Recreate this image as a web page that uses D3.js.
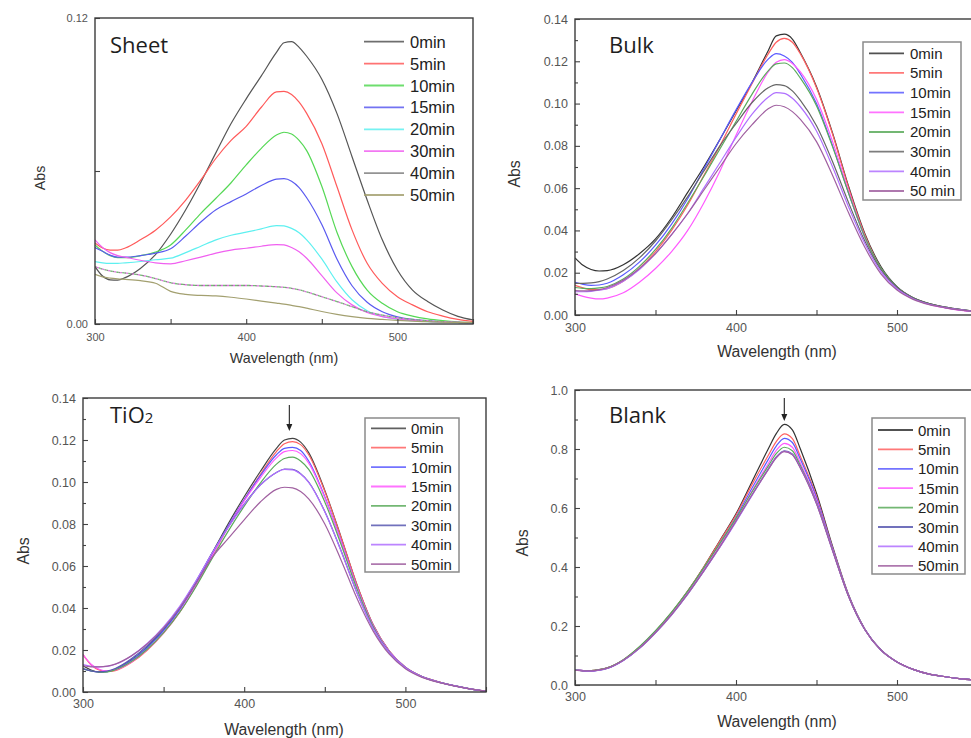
<!DOCTYPE html>
<html>
<head>
<meta charset="utf-8">
<script src="https://cdn.jsdelivr.net/npm/d3@7"></script>
<style>
  html, body { margin: 0; padding: 0; background: #fff; overflow: hidden; }
  svg { display: block; }
</style>
</head>
<body>
<svg id="fig" width="971" height="738"></svg>
<script>
// Wavelength grid (nm) shared by every spectrum
const wavelengths = [300,305,310,315,320,330,340,350,360,370,380,390,400,410,420,425,430,435,440,450,460,470,480,490,500,510,520,530,540,550];

// Irradiation times shown in the legends
const timeLabels = ["0min","5min","10min","15min","20min","30min","40min","50min"];
const bulkTimeLabels = ["0min","5min","10min","15min","20min","30min","40min","50 min"];

// Tick values
const xTicks = [300,350,400,450,500,550];
const xTickLabels = [300,400,500];
const sheetYTicks = [0, 0.06, 0.12];
const sheetYTickLabels = [0, 0.12];
const smallYMajor = [0,0.02,0.04,0.06,0.08,0.10,0.12,0.14];
const smallYMinor = [0.01,0.03,0.05,0.07,0.09,0.11,0.13];
const blankYMajor = [0,0.2,0.4,0.6,0.8,1.0];
const blankYMinor = [0.1,0.3,0.5,0.7,0.9];

// Series colours
const sheetColors = ["#555555","#ff5a5a","#55d855","#5a5af0","#5ef0f0","#f060f0","#808080","#a3a070"];
const bulkColors  = ["#333333","#ff6060","#5a5aff","#ff5aff","#5aaa5a","#666666","#b070ff","#a060a0"];
const tio2Colors  = ["#444444","#ff6060","#5a5aff","#ff5aff","#5aaa5a","#5858b0","#b070ff","#a060a0"];
const blankColors = ["#333333","#ff6060","#5a5aff","#ff5aff","#5aaa5a","#5858b0","#b070ff","#a060a0"];

// Absorbance spectra, one row per irradiation time
const sheetAbs = [
  [.0225,.0188,.0173,.0172,.0182,.0218,.0272,.0352,.0448,.0556,.0672,.0786,.0883,.0973,.1065,.1103,.1107,.1085,.1050,.0960,.0826,.0656,.0486,.0330,.0212,.0133,.0088,.0055,.0030,.0016],
  [.0318,.0298,.0290,.0290,.0298,.0330,.0368,.0420,.0486,.0565,.0650,.0720,.0775,.0850,.0910,.0912,.0900,.0870,.0826,.0708,.0539,.0369,.0238,.0159,.0107,.0075,.0048,.0031,.0018,.0010],
  [.0310,.0285,.0268,.0260,.0260,.0268,.0282,.0310,.0369,.0434,.0493,.0554,.0624,.0689,.0741,.0752,.0745,.0720,.0680,.0540,.0360,.0225,.0133,.0081,.0048,.0031,.0020,.0013,.0008,.0005],
  [.0300,.0285,.0270,.0262,.0262,.0268,.0278,.0295,.0345,.0400,.0448,.0480,.0510,.0543,.0568,.0570,.0560,.0535,.0495,.0390,.0255,.0150,.0085,.0048,.0028,.0018,.0012,.0008,.0006,.0004],
  [.0245,.0240,.0238,.0238,.0240,.0245,.0252,.0258,.0280,.0305,.0330,.0348,.0360,.0373,.0386,.0385,.0375,.0358,.0330,.0255,.0165,.0095,.0052,.0030,.0019,.0013,.0009,.0007,.0005,.0004],
  [.0330,.0300,.0280,.0268,.0262,.0250,.0240,.0236,.0248,.0262,.0278,.0290,.0297,.0305,.0311,.0310,.0300,.0283,.0258,.0190,.0122,.0075,.0045,.0029,.0020,.0014,.0010,.0008,.0006,.0005],
  [.0225,.0215,.0208,.0203,.0200,.0192,.0178,.0162,.0154,.0151,.0151,.0151,.0151,.0149,.0146,.0144,.0140,.0134,.0126,.0107,.0088,.0068,.0048,.0035,.0025,.0018,.0013,.0009,.0006,.0005],
  [.0195,.0185,.0180,.0177,.0175,.0170,.0160,.0128,.0116,.0112,.0110,.0105,.0098,.0090,.0082,.0078,.0073,.0068,.0062,.0049,.0038,.0029,.0022,.0018,.0014,.0011,.0009,.0007,.0006,.0005]
];

const bulkAbs = [
  [.0270,.0235,.0215,.0208,.0210,.0238,.0290,.0360,.0460,.0580,.0700,.0830,.0965,.1100,.1250,.1320,.1328,.1305,.1240,.1080,.0860,.0607,.0386,.0229,.0134,.0082,.0054,.0037,.0025,.0016],
  [.0140,.0128,.0120,.0120,.0125,.0160,.0220,.0300,.0400,.0520,.0660,.0800,.0950,.1095,.1235,.1290,.1308,.1290,.1235,.1075,.0855,.0600,.0380,.0222,.0130,.0080,.0052,.0035,.0023,.0015],
  [.0155,.0145,.0140,.0142,.0150,.0190,.0250,.0330,.0430,.0550,.0690,.0830,.0970,.1100,.1210,.1236,.1225,.1195,.1140,.1000,.0800,.0575,.0368,.0220,.0130,.0080,.0052,.0035,.0023,.0015],
  [.0100,.0088,.0080,.0076,.0080,.0105,.0155,.0220,.0300,.0400,.0530,.0680,.0850,.1010,.1150,.1195,.1208,.1190,.1150,.1020,.0820,.0585,.0370,.0218,.0128,.0078,.0050,.0034,.0022,.0014],
  [.0130,.0126,.0125,.0128,.0135,.0170,.0230,.0310,.0410,.0530,.0655,.0785,.0915,.1045,.1155,.1188,.1192,.1170,.1120,.0990,.0795,.0575,.0370,.0222,.0132,.0081,.0053,.0036,.0024,.0015],
  [.0150,.0150,.0152,.0158,.0170,.0210,.0270,.0350,.0450,.0560,.0680,.0800,.0905,.1005,.1075,.1090,.1085,.1060,.1015,.0895,.0725,.0530,.0350,.0214,.0130,.0081,.0054,.0037,.0025,.0016],
  [.0110,.0110,.0112,.0117,.0125,.0160,.0215,.0290,.0380,.0480,.0600,.0720,.0840,.0950,.1030,.1052,.1048,.1025,.0985,.0870,.0700,.0510,.0338,.0205,.0124,.0077,.0051,.0035,.0024,.0015],
  [.0115,.0114,.0115,.0120,.0130,.0165,.0220,.0290,.0380,.0480,.0590,.0700,.0810,.0900,.0975,.0992,.0985,.0962,.0925,.0820,.0660,.0482,.0320,.0195,.0118,.0074,.0049,.0034,.0023,.0015]
];

const tio2Abs = [
  [.0125,.0105,.0096,.0097,.0108,.0152,.0215,.0295,.0395,.0520,.0660,.0800,.0930,.1050,.1160,.1200,.1208,.1190,.1140,.0960,.0740,.0510,.0320,.0195,.0118,.0075,.0050,.0030,.0015,.0004],
  [.0178,.0130,.0105,.0098,.0102,.0140,.0200,.0280,.0380,.0505,.0645,.0785,.0915,.1035,.1145,.1182,.1192,.1178,.1130,.0955,.0738,.0510,.0320,.0195,.0118,.0075,.0050,.0030,.0015,.0004],
  [.0112,.0100,.0095,.0097,.0108,.0150,.0212,.0292,.0392,.0515,.0655,.0790,.0915,.1030,.1130,.1160,.1165,.1150,.1100,.0930,.0720,.0498,.0315,.0192,.0117,.0074,.0049,.0030,.0015,.0004],
  [.0178,.0132,.0108,.0100,.0105,.0143,.0203,.0283,.0383,.0507,.0648,.0785,.0910,.1020,.1115,.1145,.1150,.1135,.1090,.0925,.0718,.0497,.0315,.0192,.0117,.0074,.0049,.0030,.0015,.0004],
  [.0110,.0100,.0095,.0096,.0106,.0145,.0205,.0283,.0380,.0500,.0635,.0765,.0885,.0995,.1085,.1112,.1118,.1100,.1060,.0905,.0705,.0490,.0312,.0190,.0116,.0073,.0048,.0030,.0015,.0004],
  [.0110,.0100,.0096,.0100,.0112,.0158,.0222,.0302,.0402,.0525,.0660,.0785,.0895,.0985,.1045,.1062,.1060,.1040,.1000,.0860,.0675,.0472,.0303,.0187,.0115,.0073,.0048,.0030,.0015,.0004],
  [.0130,.0122,.0120,.0122,.0132,.0172,.0232,.0310,.0408,.0528,.0660,.0783,.0893,.0985,.1045,.1060,.1058,.1038,.0998,.0858,.0673,.0470,.0302,.0187,.0115,.0073,.0048,.0030,.0015,.0004],
  [.0125,.0120,.0120,.0123,.0133,.0172,.0230,.0305,.0400,.0515,.0640,.0730,.0820,.0905,.0965,.0975,.0972,.0955,.0920,.0800,.0630,.0445,.0290,.0180,.0111,.0071,.0047,.0029,.0015,.0004]
];

const blankAbs = [
  [.051,.049,.049,.052,.058,.085,.128,.182,.245,.318,.400,.490,.580,.690,.800,.852,.8836,.865,.800,.650,.470,.305,.190,.120,.078,.053,.037,.028,.021,.017],
  [.051,.049,.049,.052,.058,.085,.128,.182,.245,.318,.400,.488,.576,.680,.778,.825,.851,.835,.775,.640,.465,.303,.189,.119,.078,.053,.037,.028,.021,.017],
  [.051,.049,.048,.051,.057,.084,.126,.180,.242,.314,.394,.480,.568,.668,.764,.810,.836,.822,.765,.634,.463,.302,.189,.119,.078,.053,.037,.028,.021,.017],
  [.051,.049,.048,.051,.057,.084,.126,.180,.241,.312,.390,.475,.562,.658,.750,.795,.819,.806,.752,.626,.460,.301,.188,.118,.078,.053,.037,.028,.021,.017],
  [.051,.049,.049,.052,.058,.086,.130,.184,.247,.318,.398,.480,.565,.655,.742,.784,.806,.794,.744,.620,.458,.300,.188,.118,.078,.053,.037,.028,.021,.017],
  [.050,.048,.047,.050,.056,.083,.124,.177,.238,.308,.386,.468,.555,.645,.732,.773,.794,.783,.737,.616,.456,.300,.188,.118,.078,.053,.037,.028,.021,.017],
  [.050,.048,.047,.050,.056,.083,.124,.177,.238,.308,.386,.467,.553,.643,.730,.771,.792,.781,.736,.615,.456,.300,.188,.118,.078,.053,.037,.028,.021,.017],
  [.050,.048,.048,.051,.057,.084,.125,.178,.239,.309,.387,.469,.556,.645,.730,.770,.791,.780,.735,.614,.455,.299,.188,.118,.078,.053,.037,.028,.021,.017]
];

const svg = d3.select("#fig");
const sansFont = "'Liberation Sans', Arial, sans-serif";
const titleFont = "'Open Sans', 'Noto Sans', sans-serif";

const panels = [
  { id: "sheet", title: "Sheet", abs: sheetAbs, colors: sheetColors, labels: timeLabels,
    left: 95, right: 473, top: 18, bottom: 324, yMax: 0.12,
    yMajor: sheetYTicks, yLabelled: sheetYTickLabels, yMinor: [], yFmt: d3.format(".2f"),
    tickFont: 11, xPad: 9, axisFont: 14.3,
    absPos: [40, 178], wlPos: [284, 363], titlePos: [110, 53], titleSize: 22,
    legend: { box: null, x1: 364, x2: 404, tx: 410, y0: 41.7, dy: 21.9, font: 16.5 },
    arrow: null },
  { id: "bulk", title: "Bulk", abs: bulkAbs, colors: bulkColors, labels: bulkTimeLabels,
    left: 575, right: 977.5, top: 19, bottom: 315, yMax: 0.14,
    yMajor: smallYMajor, yLabelled: smallYMajor, yMinor: smallYMinor, yFmt: d3.format(".2f"),
    tickFont: 12.5, xPad: 8.5, axisFont: 15.8,
    absPos: [514, 174], wlPos: [777, 357], titlePos: [609, 53], titleSize: 22,
    legend: { box: [863, 42, 961, 200], x1: 869, x2: 904, tx: 910, y0: 53.3, dy: 19.67, font: 15 },
    arrow: null },
  { id: "tio2", title: "TiO", sub: "2", abs: tio2Abs, colors: tio2Colors, labels: timeLabels,
    left: 83, right: 486, top: 398, bottom: 692, yMax: 0.14,
    yMajor: smallYMajor, yLabelled: smallYMajor, yMinor: smallYMinor, yFmt: d3.format(".2f"),
    tickFont: 12.5, xPad: 7.5, axisFont: 15.8,
    absPos: [23, 551], wlPos: [284, 735], titlePos: [110, 423], titleSize: 22,
    legend: { box: [365, 418, 459, 572], x1: 371, x2: 406, tx: 411, y0: 428.3, dy: 19.4, font: 15 },
    arrow: { w: 428, y1: 405, y2: 431 } },
  { id: "blank", title: "Blank", abs: blankAbs, colors: blankColors, labels: timeLabels,
    left: 575, right: 977.5, top: 390, bottom: 685, yMax: 1.0,
    yMajor: blankYMajor, yLabelled: blankYMajor, yMinor: blankYMinor, yFmt: d3.format(".1f"),
    tickFont: 12.5, xPad: 7.5, axisFont: 15.8,
    absPos: [522, 543], wlPos: [777, 727], titlePos: [609, 423], titleSize: 22,
    legend: { box: [872, 418, 965, 574], x1: 878, x2: 913, tx: 918, y0: 430, dy: 19.4, font: 15 },
    arrow: { w: 430, y1: 398, y2: 421 } }
];

panels.forEach(drawPanel);

function drawPanel(p) {
  const g = svg.append("g").attr("class", "panel-" + p.id);
  const x = d3.scaleLinear().domain([300, 550]).range([p.left, p.right]);
  const y = d3.scaleLinear().domain([0, p.yMax]).range([p.bottom, p.top]);

  // clip region for the spectra
  const clipId = "clip-" + p.id;
  svg.append("defs").append("clipPath").attr("id", clipId)
    .append("rect")
    .attr("x", p.left).attr("y", p.top)
    .attr("width", p.right - p.left).attr("height", p.bottom - p.top);

  const line = d3.line()
    .x(d => x(d[0]))
    .y(d => y(d[1]))
    .curve(d3.curveMonotoneX);

  const curves = g.append("g").attr("clip-path", `url(#${clipId})`);
  p.abs.forEach((row, i) => {
    const pts = wavelengths.map((w, j) => [w, row[j]]);
    if (p.id === "sheet" && i === 6) {
      // 40 min trace: a speckled multi-coloured line
      const dashColors = ["#8a8a8a", "#e070e0", "#70c070"];
      dashColors.forEach((c, k) => {
        curves.append("path").datum(pts)
          .attr("d", line).attr("fill", "none")
          .attr("stroke", c).attr("stroke-width", 1.3)
          .attr("stroke-dasharray", "2,4")
          .attr("stroke-dashoffset", -2 * k);
      });
    } else {
      curves.append("path").datum(pts)
        .attr("d", line).attr("fill", "none")
        .attr("stroke", p.colors[i]).attr("stroke-width", 1.2);
    }
  });

  // axes with inward ticks
  const xAxis = d3.axisBottom(x)
    .tickValues(xTicks)
    .tickSize(-5)
    .tickPadding(p.xPad)
    .tickFormat(d => xTickLabels.includes(d) ? String(d) : "");
  const gx = g.append("g").attr("transform", `translate(0,${p.bottom})`).call(xAxis);

  const yAxis = d3.axisLeft(y)
    .tickValues(p.yMajor)
    .tickSize(-5)
    .tickPadding(7)
    .tickFormat(d => p.yLabelled.some(v => Math.abs(v - d) < 1e-9) ? p.yFmt(d) : "");
  const gy = g.append("g").attr("transform", `translate(${p.left},0)`).call(yAxis);

  if (p.yMinor.length) {
    const yMinorAxis = d3.axisLeft(y).tickValues(p.yMinor).tickSize(-3).tickFormat("");
    const gm = g.append("g").attr("transform", `translate(${p.left},0)`).call(yMinorAxis);
    gm.select(".domain").remove();
    gm.selectAll("line").attr("stroke", "#444").attr("stroke-width", 1.1);
  }

  [gx, gy].forEach(ax => {
    ax.select(".domain").remove();
    ax.selectAll("line").attr("stroke", "#444").attr("stroke-width", 1.1);
    ax.selectAll("text")
      .attr("fill", "#555")
      .style("font-family", sansFont)
      .style("font-size", p.tickFont + "px");
  });

  // plot frame
  g.append("rect")
    .attr("x", p.left).attr("y", p.top)
    .attr("width", p.right - p.left).attr("height", p.bottom - p.top)
    .attr("fill", "none").attr("stroke", "#3c3c3c").attr("stroke-width", 1.4);

  // axis titles
  g.append("text")
    .attr("transform", `translate(${p.absPos[0]},${p.absPos[1]}) rotate(-90)`)
    .attr("text-anchor", "middle").attr("dominant-baseline", "central")
    .attr("fill", "#333")
    .style("font-family", sansFont).style("font-size", p.axisFont + "px")
    .text("Abs");
  g.append("text")
    .attr("x", p.wlPos[0]).attr("y", p.wlPos[1])
    .attr("text-anchor", "middle")
    .attr("fill", "#333")
    .style("font-family", sansFont).style("font-size", p.axisFont + "px")
    .text("Wavelength (nm)");

  // panel title
  const t = g.append("text")
    .attr("x", p.titlePos[0]).attr("y", p.titlePos[1])
    .attr("fill", "#1e1e1e")
    .style("font-family", titleFont).style("font-size", p.titleSize + "px")
    .text(p.title);
  if (p.sub) {
    t.append("tspan").style("font-size", "15px").text(p.sub);
  }

  // legend
  const L = p.legend;
  const lg = g.append("g");
  if (L.box) {
    lg.append("rect")
      .attr("x", L.box[0]).attr("y", L.box[1])
      .attr("width", L.box[2] - L.box[0]).attr("height", L.box[3] - L.box[1])
      .attr("fill", "#fff").attr("stroke", "#8a8a8a").attr("stroke-width", 1.5);
  }
  p.labels.forEach((lab, i) => {
    const yy = L.y0 + i * L.dy;
    lg.append("line")
      .attr("x1", L.x1).attr("x2", L.x2).attr("y1", yy).attr("y2", yy)
      .attr("stroke", p.colors[i]).attr("stroke-width", 1.8).attr("stroke-opacity", 0.85);
    lg.append("text")
      .attr("x", L.tx).attr("y", yy)
      .attr("dominant-baseline", "central")
      .attr("fill", "#222")
      .style("font-family", sansFont).style("font-size", L.font + "px")
      .text(lab);
  });

  // arrow marking the band maximum
  if (p.arrow) {
    const ax = x(p.arrow.w);
    g.append("line")
      .attr("x1", ax).attr("x2", ax).attr("y1", p.arrow.y1).attr("y2", p.arrow.y2 - 5)
      .attr("stroke", "#222").attr("stroke-width", 1.1);
    g.append("path")
      .attr("d", `M${ax - 3},${p.arrow.y2 - 7} L${ax + 3},${p.arrow.y2 - 7} L${ax},${p.arrow.y2} Z`)
      .attr("fill", "#222");
  }
}
</script>
</body>
</html>
